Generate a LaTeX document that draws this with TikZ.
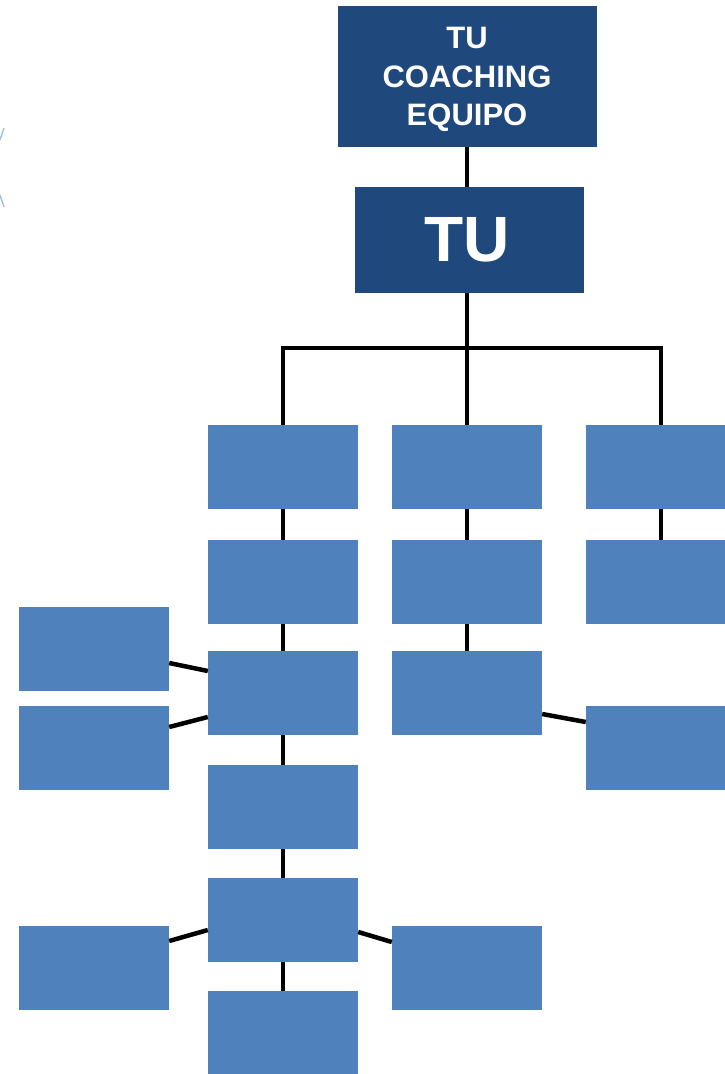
\documentclass[tikz,border=0pt]{standalone}
\usepackage{fontspec}
\setmainfont{Liberation Sans}
\definecolor{dkblue}{HTML}{1F497D}
\definecolor{ltblue}{HTML}{4F81BD}
\begin{document}
\begin{tikzpicture}[x=1pt,y=-1pt,
  dkbox/.style={fill=dkblue,draw=none,inner sep=0pt,text=white,font=\bfseries},
  ltbox/.style={fill=ltblue,draw=none,inner sep=0pt,minimum width=150pt,minimum height=84pt},
  conn/.style={line width=4.5pt,black}]
\useasboundingbox (0,0) rectangle (725,1074);
% faint cut-off mark at left edge
\draw[ltblue!50,line width=1.5pt] (0,140) -- (4,128);
\draw[ltblue!50,line width=1.5pt] (0,195) -- (4,207);
% top boxes
\node[dkbox,minimum width=259pt,minimum height=141pt] (top) at (467.5,76.5) {};
\node[text=white,inner sep=0pt,align=center,font=\bfseries\fontsize{31}{38.5}\selectfont] (toptext) at (467,79.5) {TU\\COACHING\\EQUIPO};
\node[dkbox,minimum width=229pt,minimum height=106pt,font=\bfseries\fontsize{64}{70}\selectfont] (tu) at (469.5,240) {\hspace*{-4pt}TU};
% light boxes
\node[ltbox] (a1) at (283,467) {};
\node[ltbox] (b1) at (467,467) {};
\node[ltbox,minimum width=140pt] (c1) at (656,467) {};
\node[ltbox] (a2) at (283,582) {};
\node[ltbox] (b2) at (467,582) {};
\node[ltbox,minimum width=140pt] (c2) at (656,582) {};
\node[ltbox] (a3) at (283,693) {};
\node[ltbox] (b3) at (467,693) {};
\node[ltbox] (l1) at (94,649) {};
\node[ltbox] (l2) at (94,748) {};
\node[ltbox,minimum width=140pt] (r1) at (656,748) {};
\node[ltbox] (a4) at (283,807) {};
\node[ltbox] (a5) at (283,920) {};
\node[ltbox,minimum height=83pt] (a6) at (283,1032.5) {};
\node[ltbox] (l3) at (94,968) {};
\node[ltbox] (m1) at (467,968) {};
% bus
\coordinate (busL) at (283,348);
\coordinate (busM) at (467,348);
\coordinate (busR) at (661,348);
% connectors
\draw[conn] (top.south -| busM) -- (tu.north -| busM);
\draw[conn] (tu.south -| busM) -- (busM);
\draw[conn] ([xshift=-2.25pt]busL) -- ([xshift=2.25pt]busR);
\draw[conn] (busL) -- (a1.north);
\draw[conn] (busM) -- (b1.north);
\draw[conn] (busR) -- (busR |- c1.north);
\draw[conn] (a1.south) -- (a2.north);
\draw[conn] (a2.south) -- (a3.north);
\draw[conn] (a3.south) -- (a4.north);
\draw[conn] (a4.south) -- (a5.north);
\draw[conn] (a5.south) -- (a6.north);
\draw[conn] (b1.south) -- (b2.north);
\draw[conn] (b2.south) -- (b3.north);
\draw[conn] (c1.south -| busR) -- (c2.north -| busR);
\draw[conn] ([yshift=-14pt]l1.east) -- ([yshift=22pt]a3.west);
\draw[conn] ([yshift=21pt]l2.east) -- ([yshift=-24pt]a3.west);
\draw[conn] ([yshift=-21pt]b3.east) -- ([yshift=26pt]r1.west);
\draw[conn] ([yshift=27pt]l3.east) -- ([yshift=-10pt]a5.west);
\draw[conn] ([yshift=-12pt]a5.east) -- ([yshift=26pt]m1.west);
\end{tikzpicture}
\end{document}
